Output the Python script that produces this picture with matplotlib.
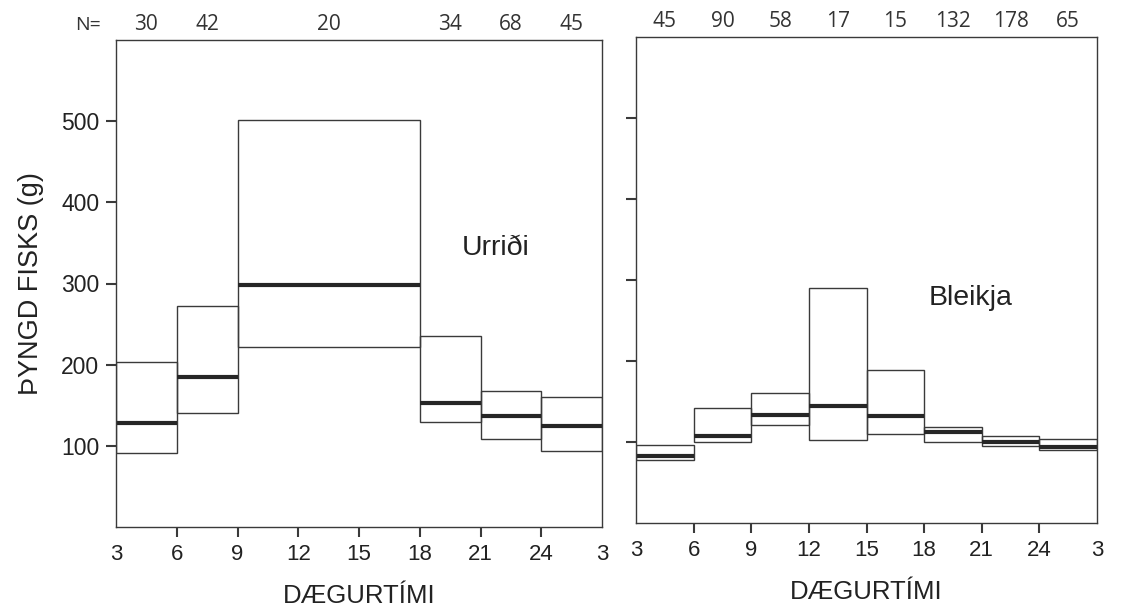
import matplotlib
matplotlib.use("Agg")
import matplotlib.pyplot as plt
import matplotlib.transforms as mtransforms

# ---- data ----
left_start = [3, 6, 9, 18, 21, 24]
left_width = [3, 3, 9, 3, 3, 3]
left_q1 = [91, 140, 222, 129, 108, 94]
left_med = [128, 185, 298, 153, 137, 124]
left_q3 = [203, 272, 501, 235, 167, 160]
left_n = [30, 42, 20, 34, 68, 45]

right_start = [3, 6, 9, 12, 15, 18, 21, 24]
right_width = [3, 3, 3, 3, 3, 3, 3, 3]
right_q1 = [78, 100, 121, 102, 110, 100, 95, 90]
right_med = [83, 108, 133, 145, 132, 112, 100, 94]
right_q3 = [96, 142, 160, 290, 189, 119, 108, 104]
right_n = [45, 90, 58, 17, 15, 132, 178, 65]

xtick_pos = [3, 6, 9, 12, 15, 18, 21, 24, 27]
xtick_lab = ["3", "6", "9", "12", "15", "18", "21", "24", "3"]
ytick_pos = [100, 200, 300, 400, 500]

plt.rcParams['font.family'] = ['Liberation Sans', 'DejaVu Sans']

W, H = 1135, 614
fig = plt.figure(figsize=(W / 100, H / 100), dpi=100)

def px_axes(l, t, r, b):
    return fig.add_axes([l / W, 1 - b / H, (r - l) / W, (b - t) / H])

ax1 = px_axes(116, 40, 602, 527)
ax2 = px_axes(636, 37, 1097, 523)

line_c = "#3a3a3a"
med_c = "#262626"

def draw(ax, start, width, q1, med, q3, ns, label, lx, ly, show_y):
    heights = [b - a for a, b in zip(q1, q3)]
    ax.bar(start, heights, width=width, bottom=q1, align='edge',
           fill=False, edgecolor=line_c, linewidth=1.0)
    ends = [s + w for s, w in zip(start, width)]
    ax.hlines(med, start, ends, colors=med_c, linewidth=3.0)
    ax.set_xlim(3, 27)
    ax.set_ylim(0, 600)
    ax.set_xticks(xtick_pos)
    ax.set_xticklabels(xtick_lab, fontsize=16)
    ax.set_yticks(ytick_pos)
    if show_y:
        ax.set_yticklabels([str(v) for v in ytick_pos], fontsize=16.5)
    else:
        ax.set_yticklabels([])
    ax.tick_params(axis='both', direction='out', length=7, width=1.5,
                   color=line_c, labelcolor="#222222", pad=5)
    xt = ax.xaxis.get_major_ticks()
    for t in (xt[0], xt[-1]):
        t.tick1line.set_visible(False)
    for sp in ax.spines.values():
        sp.set_color(line_c)
        sp.set_linewidth(1.0)
    ax.text(lx, ly, label, fontsize=20.5, color="#222222", ha='center', va='center')
    ax.set_xlabel("DÆGURTÍMI", fontsize=18.5, color="#222222", labelpad=14)
    trans = mtransforms.blended_transform_factory(ax.transData, ax.transAxes)
    centers = [s + w / 2 for s, w in zip(start, width)]
    for c, n in zip(centers, ns):
        ax.text(c, 1.032, str(n), transform=trans, fontsize=15, color="#333333",
                ha='center', va='center', family=['Open Sans', 'DejaVu Sans'])

draw(ax1, left_start, left_width, left_q1, left_med, left_q3, left_n,
     "Urriði", 21.75, 344, True)
draw(ax2, right_start, right_width, right_q1, right_med, right_q3, right_n,
     "Bleikja", 20.4, 278, False)

ax1.set_ylabel("ÞYNGD FISKS (g)", fontsize=19.5, color="#222222", labelpad=12)
fig.text(88 / W, 1 - 25 / H, "N=", fontsize=14, color="#333333",
         ha='center', va='center', family=['Open Sans', 'DejaVu Sans'])

fig.savefig("out.png", dpi=100, facecolor="white")
